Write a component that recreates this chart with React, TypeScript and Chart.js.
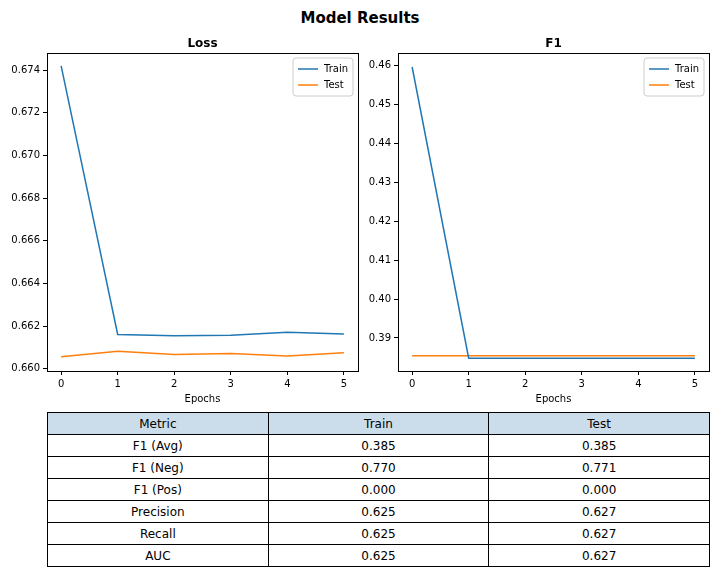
import { useEffect, useRef } from 'react'
import { Chart, registerables } from 'chart.js'

Chart.register(...registerables)

const epochs = [0, 1, 2, 3, 4, 5]
const lossTrain = [0.6742, 0.66161, 0.66155, 0.66157, 0.66172, 0.66163]
const lossTest = [0.66057, 0.66083, 0.66067, 0.66072, 0.6606, 0.66075]
const f1Train = [0.4597, 0.3848, 0.3848, 0.3848, 0.3848, 0.3848]
const f1Test = [0.3854, 0.3854, 0.3854, 0.3854, 0.3854, 0.3854]
const lossTicks = [0.66, 0.662, 0.664, 0.666, 0.668, 0.67, 0.672, 0.674]
const f1Ticks = [0.39, 0.4, 0.41, 0.42, 0.43, 0.44, 0.45, 0.46]

const tableHead = ['Metric', 'Train', 'Test']
const tableRows = [
  ['F1 (Avg)', '0.385', '0.385'],
  ['F1 (Neg)', '0.770', '0.771'],
  ['F1 (Pos)', '0.000', '0.000'],
  ['Precision', '0.625', '0.627'],
  ['Recall', '0.625', '0.627'],
  ['AUC', '0.625', '0.627'],
]

const BLUE = '#1f77b4'
const ORANGE = '#ff7f0e'
const FONT = 'DejaVu Sans'

const frame = {
  id: 'frame',
  afterDraw(c: any, _a: any, o: any) {
    const { ctx, chartArea: a } = c
    ctx.save()
    ctx.strokeStyle = '#000'; ctx.lineWidth = 1
    ctx.strokeRect(a.left + 0.5, a.top + 0.5, a.right - a.left, a.bottom - a.top)
    ctx.fillStyle = '#000'; ctx.font = `bold 12px ${FONT}`; ctx.textAlign = 'center'
    ctx.fillText(o.title, (a.left + a.right) / 2, a.top - 6)
    // legend
    const w = 60, h = 38, x = a.right - w - 5, y = a.top + 5
    ctx.fillStyle = 'rgba(255,255,255,0.8)'; ctx.strokeStyle = '#ccc'
    ctx.beginPath(); ctx.roundRect(x, y, w, h, 3); ctx.fill(); ctx.stroke()
    ;[['Train', BLUE], ['Test', ORANGE]].forEach(([t, col], i) => {
      const yy = y + 11 + i * 16
      ctx.strokeStyle = col; ctx.lineWidth = 1.5
      ctx.beginPath(); ctx.moveTo(x + 5, yy); ctx.lineTo(x + 25, yy); ctx.stroke()
      ctx.fillStyle = '#000'; ctx.font = `10px ${FONT}`; ctx.textAlign = 'left'; ctx.textBaseline = 'middle'
      ctx.fillText(t, x + 31, yy)
    })
    ctx.restore()
  },
}

function LineBox({ title, train, test, ticks, min, max }: { title: string; train: number[]; test: number[]; ticks: number[]; min: number; max: number }) {
  const ref = useRef<HTMLCanvasElement>(null)
  useEffect(() => {
    if (!ref.current) return
    const tick = { color: '#000', font: { size: 10, family: FONT } }
    const grid = { drawOnChartArea: false, drawTicks: true, tickLength: 4, color: '#000' }
    const chart = new Chart(ref.current, {
      type: 'line',
      data: {
        datasets: [
          { label: 'Train', data: epochs.map((e, i) => ({ x: e, y: train[i] })), borderColor: BLUE, borderWidth: 1.5, pointRadius: 0 },
          { label: 'Test', data: epochs.map((e, i) => ({ x: e, y: test[i] })), borderColor: ORANGE, borderWidth: 1.5, pointRadius: 0 },
        ],
      },
      options: {
        animation: false, responsive: false,
        layout: { padding: { top: 23, right: 4 } },
        plugins: { legend: { display: false }, tooltip: { enabled: false }, frame: { title } } as any,
        scales: {
          x: {
            type: 'linear', min: -0.25, max: 5.25, ticks: tick, grid, border: { display: false },
            title: { display: true, text: 'Epochs', color: '#000', font: { size: 10, family: FONT }, padding: 0 },
            afterBuildTicks: (s: any) => { s.ticks = epochs.map(v => ({ value: v })) },
          },
          y: {
            min, max, ticks: { ...tick, callback: (v: any) => ticks[0] > 0.5 ? Number(v).toFixed(3) : Number(v).toFixed(2) }, grid, border: { display: false },
            afterBuildTicks: (s: any) => { s.ticks = ticks.map(v => ({ value: v })) },
            afterFit: (s: any) => { s.width = 47 },
          },
        },
      } as any,
      plugins: [frame],
    })
    return () => chart.destroy()
  }, [])
  return <canvas ref={ref} width={362} height={375} />
}

export default function App() {
  const cell = { border: '1px solid #000', height: 21, padding: 0, textAlign: 'center' as const }
  return (
    <div style={{ position: 'fixed', left: 0, top: 0, width: 720, height: 576, background: '#fff', fontFamily: FONT }}>
      <div style={{ position: 'absolute', top: 9, width: 720, textAlign: 'center', fontWeight: 'bold', fontSize: 15 }}>Model Results</div>
      <div style={{ position: 'absolute', left: 0, top: 30 }}>
        <LineBox title="Loss" train={lossTrain} test={lossTest} ticks={lossTicks} min={0.6599} max={0.6748} />
      </div>
      <div style={{ position: 'absolute', left: 351, top: 30 }}>
        <LineBox title="F1" train={f1Train} test={f1Test} ticks={f1Ticks} min={0.3815} max={0.4633} />
      </div>
      <table style={{ position: 'absolute', left: 47, top: 412, width: 663, borderCollapse: 'collapse', fontSize: 12, tableLayout: 'fixed' }}>
        <thead>
          <tr>{tableHead.map(h => <td key={h} style={{ ...cell, background: '#cbdcea', fontWeight: 'normal' }}>{h}</td>)}</tr>
        </thead>
        <tbody>
          {tableRows.map(r => <tr key={r[0]}>{r.map((v, i) => <td key={i} style={cell}>{v}</td>)}</tr>)}
        </tbody>
      </table>
    </div>
  )
}
